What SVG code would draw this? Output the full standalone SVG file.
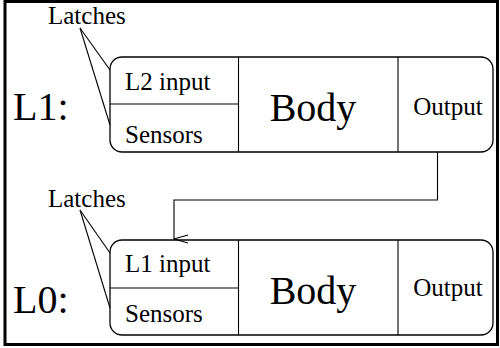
<svg xmlns="http://www.w3.org/2000/svg" width="500" height="348" viewBox="0 0 500 348">
<defs>
<style>
text{font-family:'Liberation Serif','Times New Roman',Times,serif;fill:#000}
.box{fill:#fff;stroke:#000;stroke-width:1.3}
.ln{fill:none;stroke:#000;stroke-width:1.1}
</style>
<marker id="v" viewBox="0 0 10 16" refX="5" refY="15" markerWidth="10" markerHeight="16" markerUnits="userSpaceOnUse" orient="auto-start-reverse">
<path d="M1,1 L5,15 L9,1" fill="none" stroke="#000" stroke-width="1.1"/>
</marker>
</defs>
<rect x="5" y="1.5" width="492.5" height="343" fill="#fff" stroke="#000" stroke-width="3"/>
<g id="L1" font-family="Liberation Serif, Times New Roman, serif">
<text x="13" y="120" font-size="40">L1:</text>
<rect class="box" x="110" y="57" width="383" height="95" rx="12"/>
<line class="ln" x1="238.5" y1="57" x2="238.5" y2="152"/>
<line class="ln" x1="398" y1="57" x2="398" y2="152"/>
<line class="ln" x1="110" y1="104" x2="238.5" y2="104"/>
<text x="125" y="90" font-size="25">L2 input</text>
<text x="125" y="143" font-size="25">Sensors</text>
<text x="313" y="121" font-size="40" text-anchor="middle">Body</text>
<text x="448" y="115" font-size="25" text-anchor="middle">Output</text>
</g>
<g id="latches1" font-family="Liberation Serif, Times New Roman, serif">
<text x="48" y="24" font-size="25">Latches</text>
<line class="ln" x1="80" y1="28" x2="110" y2="70"/>
<line class="ln" x1="80" y1="28" x2="110" y2="125"/>
</g>
<g id="L0" font-family="Liberation Serif, Times New Roman, serif">
<text x="13" y="313" font-size="40">L0:</text>
<rect class="box" x="110" y="240" width="383" height="95" rx="12"/>
<line class="ln" x1="238.5" y1="240" x2="238.5" y2="335"/>
<line class="ln" x1="398" y1="240" x2="398" y2="335"/>
<line class="ln" x1="110" y1="288" x2="238.5" y2="288"/>
<text x="125" y="272" font-size="25">L1 input</text>
<text x="125" y="322" font-size="25">Sensors</text>
<text x="313" y="304" font-size="40" text-anchor="middle">Body</text>
<text x="448" y="296" font-size="25" text-anchor="middle">Output</text>
</g>
<g id="latches0" font-family="Liberation Serif, Times New Roman, serif">
<text x="48" y="207" font-size="25">Latches</text>
<line class="ln" x1="80" y1="210" x2="110" y2="253"/>
<line class="ln" x1="80" y1="210" x2="110" y2="308"/>
</g>
<g id="connectors">
<path class="ln" d="M437.5,152 V200 H174 V239" marker-end="url(#v)"/>
</g>
</svg>
